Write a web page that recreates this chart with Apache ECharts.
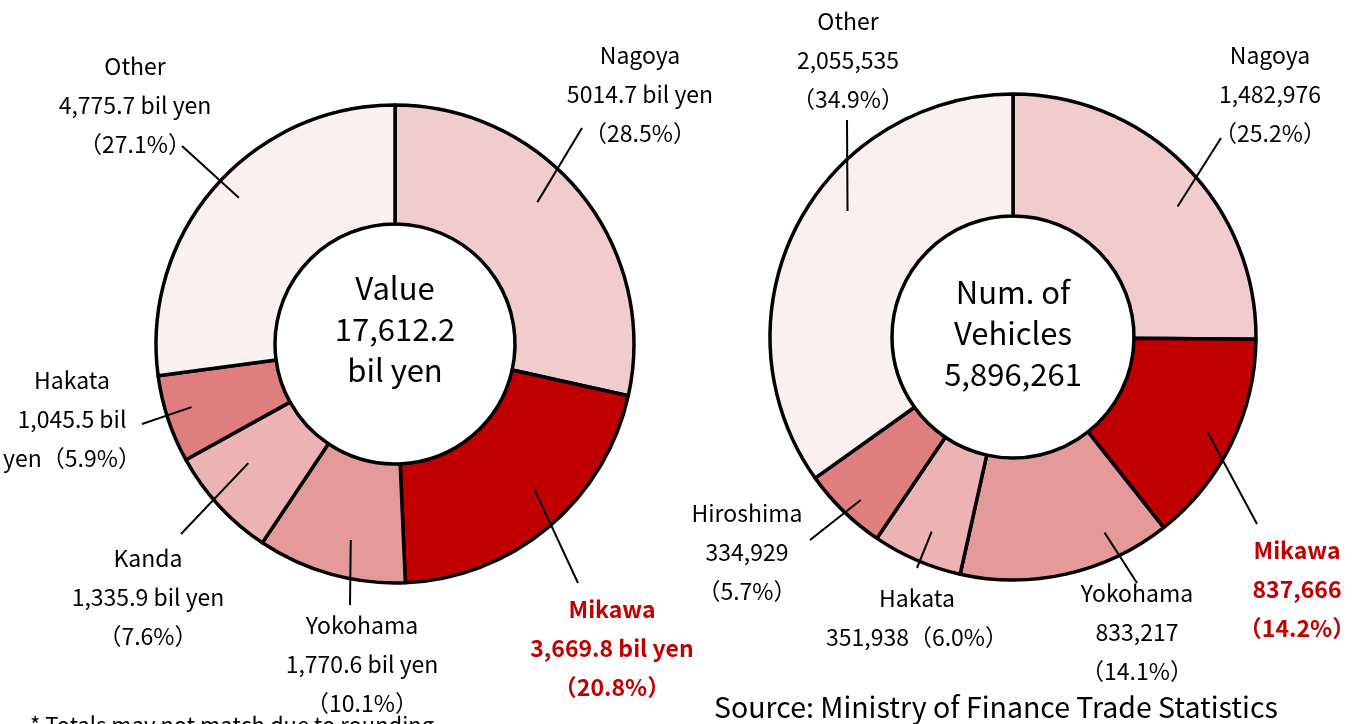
<!DOCTYPE html>
<html>
<head>
<meta charset="utf-8">
<script src="https://cdn.jsdelivr.net/npm/echarts@6/dist/echarts.min.js"></script>
<style>
html,body{margin:0;padding:0;background:#fff;}
#chart{width:1354px;height:724px;}
</style>
</head>
<body>
<div id="chart"></div>
<script>
// ---------- DATA ----------
const valueCategories = ['Nagoya', 'Mikawa', 'Yokohama', 'Kanda', 'Hakata', 'Other'];
const valueAmounts = [5014.7, 3669.8, 1770.6, 1335.9, 1045.5, 4775.7];
const valueAmountText = ['5014.7', '3,669.8', '1,770.6', '1,335.9', '1,045.5', '4,775.7'];
const valueShares = [28.5, 20.8, 10.1, 7.6, 5.9, 27.1];

const vehicleCategories = ['Nagoya', 'Mikawa', 'Yokohama', 'Hakata', 'Hiroshima', 'Other'];
const vehicleCounts = [1482976, 837666, 833217, 351938, 334929, 2055535];
const vehicleShares = [25.2, 14.2, 14.1, 6.0, 5.7, 34.9];

const highlightCategory = 'Mikawa';
const sourceText = 'Source: Ministry of Finance Trade Statistics';
const footnoteText = '* Totals may not match due to rounding';

// ---------- STYLE / LAYOUT ----------
const FONT = '"Noto Sans CJK JP", "Noto Sans", sans-serif';
const colorMap = {
  Nagoya: '#F0CCCC', Mikawa: '#C00000', Yokohama: '#E59A9A',
  Kanda: '#EBB3B3', Hakata: '#DE7E7E', Hiroshima: '#DE7E7E', Other: '#FBF0F0'
};
const vehicleColorMap = Object.assign({}, colorMap, { Hakata: '#EBB3B3' });

const leftPie = { center: [395, 344], radius: [120, 239] };
const rightPie = { center: [1013, 337], radius: [121, 243] };

// leader-line start: [fraction of the slice's angle span, radius in px]
const leftLineStart = [[0.44, 201], [0.45, 202], [0.42, 201], [0.63, 189], [0.55, 213], [0.52, 214]];
const rightLineStart = [[0.57, 210], [0.50, 217], [0.26, 216], [0.47, 211], [0.44, 223], [0.58, 208]];
// label block centres and line-end offsets (relative to label centre)
const leftLabelPos = [[640, 94], [612, 648], [362, 664], [148, 597], [72, 419], [135, 105]];
const leftLineEnd = [[-58, 34], [-34, -65], [-12, -59], [33, -63], [70, 5], [47, 41]];
const rightLabelPos = [[1270, 94], [1297, 589], [1137, 632], [917, 618], [747, 552], [848, 60]];
const rightLineEnd = [[-49, 44], [-40, -65], [0, -49], [0, -50], [63, -12], [-1, 60]];

// ---------- BUILD ----------
function fmtInt(n) { return Math.round(n).toLocaleString('en-US'); }
function fmt1(n) { return n.toLocaleString('en-US', { minimumFractionDigits: 1, maximumFractionDigits: 1 }); }

const valueTotal = valueAmounts.reduce((a, b) => a + b, 0);
const vehicleTotal = vehicleCounts.reduce((a, b) => a + b, 0);

const valueLabelText = valueCategories.map((c, i) => {
  if (c === 'Hakata') return c + '\n' + valueAmountText[i] + ' bil\nyen（' + valueShares[i].toFixed(1) + '%）';
  return c + '\n' + valueAmountText[i] + ' bil yen\n（' + valueShares[i].toFixed(1) + '%）';
});
const vehicleLabelText = vehicleCategories.map((c, i) => {
  if (c === 'Hakata') return c + '\n' + fmtInt(vehicleCounts[i]) + '（' + vehicleShares[i].toFixed(1) + '%）';
  return c + '\n' + fmtInt(vehicleCounts[i]) + '\n（' + vehicleShares[i].toFixed(1) + '%）';
});

function buildData(cats, vals, texts, cmap, overlay) {
  return cats.map((c, i) => {
    const d = { name: c, value: vals[i], labelText: texts[i] };
    d.itemStyle = overlay ? { color: 'rgba(0,0,0,0)' } : { color: cmap[c] };
    if (overlay && c === highlightCategory) d.label = { color: '#C00000', fontWeight: 'bold' };
    return d;
  });
}

function makeLayout(pie, labelPos, lineEnd, lineStart, vals) {
  const total = vals.reduce((a, b) => a + b, 0);
  return function (params) {
    const i = params.dataIndex;
    const pos = labelPos[i];
    let cum = 0;
    for (let k = 0; k < i; k++) cum += vals[k];
    const ang = (cum + vals[i] * lineStart[i][0]) / total * Math.PI * 2;
    const rs = lineStart[i][1];
    const S = [pie.center[0] + Math.sin(ang) * rs, pie.center[1] - Math.cos(ang) * rs];
    const E = [pos[0] + lineEnd[i][0], pos[1] + lineEnd[i][1]];
    return {
      x: pos[0], y: pos[1], align: 'center', verticalAlign: 'middle',
      labelLinePoints: [S, E, E]
    };
  };
}

function baseSeries(pie, cats, vals, cmap) {
  return {
    type: 'pie', center: pie.center, radius: pie.radius,
    startAngle: 90, clockwise: true, silent: true, z: 2,
    emphasis: { disabled: true },
    itemStyle: { borderColor: '#000', borderWidth: 3.5 },
    label: { show: false }, labelLine: { show: false },
    data: buildData(cats, vals, [], cmap, false)
  };
}

function labelSeries(pie, cats, vals, texts, labelPos, lineEnd, lineStart) {
  return {
    type: 'pie', center: pie.center, radius: pie.radius,
    startAngle: 90, clockwise: true, silent: true, z: 5,
    avoidLabelOverlap: false,
    emphasis: { disabled: true },
    itemStyle: { borderWidth: 0 },
    label: {
      show: true, position: 'outside',
      formatter: p => p.data.labelText,
      color: '#000', fontFamily: FONT, fontSize: 23, lineHeight: 39
    },
    labelLine: { show: true, length: 30, length2: 0, lineStyle: { color: '#000', width: 2 } },
    labelLayout: makeLayout(pie, labelPos, lineEnd, lineStart, vals),
    data: buildData(cats, vals, texts, null, true)
  };
}

const chart = echarts.init(document.getElementById('chart'), null, { renderer: 'canvas' });
chart.setOption({
  animation: false,
  backgroundColor: '#fff',
  series: [
    baseSeries(leftPie, valueCategories, valueAmounts, colorMap),
    baseSeries(rightPie, vehicleCategories, vehicleCounts, vehicleColorMap),
    labelSeries(leftPie, valueCategories, valueAmounts, valueLabelText, leftLabelPos, leftLineEnd, leftLineStart),
    labelSeries(rightPie, vehicleCategories, vehicleCounts, vehicleLabelText, rightLabelPos, rightLineEnd, rightLineStart)
  ],
  graphic: [
    { type: 'text', x: leftPie.center[0], y: 329, silent: true, z: 10,
      style: { text: 'Value\n' + fmt1(valueTotal) + '\nbil yen', align: 'center', verticalAlign: 'middle',
               fontFamily: FONT, fontSize: 31, lineHeight: 41, fill: '#000' } },
    { type: 'text', x: rightPie.center[0], y: 333, silent: true, z: 10,
      style: { text: 'Num. of\nVehicles\n' + fmtInt(vehicleTotal), align: 'center', verticalAlign: 'middle',
               fontFamily: FONT, fontSize: 31, lineHeight: 41, fill: '#000' } },
    { type: 'text', x: 714, y: 707, silent: true,
      style: { text: sourceText, align: 'left', verticalAlign: 'middle', fontFamily: FONT, fontSize: 28.5, fill: '#000' } },
    { type: 'text', x: 30, y: 714, silent: true,
      style: { text: footnoteText, align: 'left', verticalAlign: 'top', fontFamily: FONT, fontSize: 22, fill: '#000' } }
  ]
});
</script>
</body>
</html>
